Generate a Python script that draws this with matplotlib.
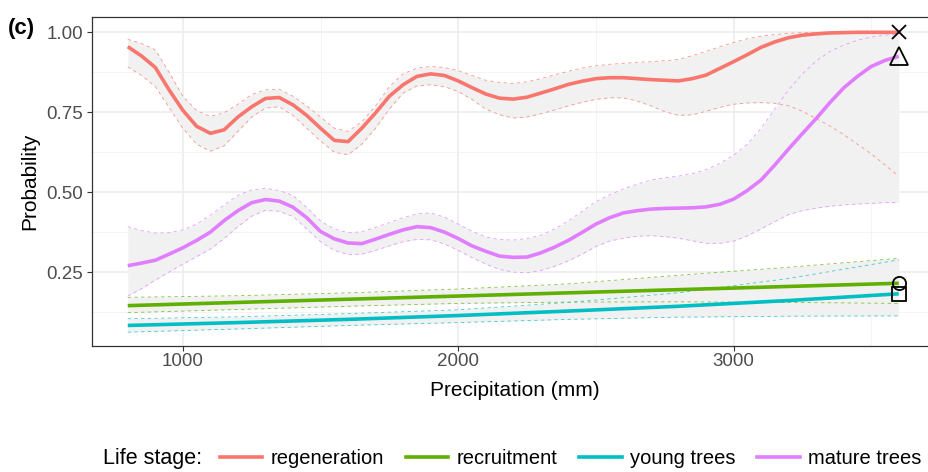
#!/usr/bin/env python

"""Plot fitted probability of each life stage against precipitation,
with confidence bands.
"""

import matplotlib.pyplot as plt
from matplotlib.lines import Line2D

plt.rcParams['font.family'] = ['Liberation Sans', 'DejaVu Sans']

# precipitation grid (mm), 50 mm steps from 800 to 3600
precip = list(range(800, 3650, 50))

regen_fit = [0.955, 0.926, 0.89, 0.82, 0.756, 0.706, 0.684, 0.695, 0.735, 0.767,
             0.793, 0.796, 0.773, 0.74, 0.70, 0.662, 0.658, 0.70, 0.748, 0.80,
             0.836, 0.862, 0.87, 0.865, 0.848, 0.827, 0.807, 0.794, 0.791, 0.797,
             0.81, 0.823, 0.837, 0.847, 0.855, 0.858, 0.858, 0.855, 0.852, 0.85,
             0.848, 0.855, 0.866, 0.887, 0.908, 0.93, 0.953, 0.97, 0.983, 0.991,
             0.995, 0.998, 0.999, 1.0, 1.0, 1.0, 1.0]
regen_lo = [0.892, 0.865, 0.83, 0.765, 0.70, 0.65, 0.628, 0.645, 0.69, 0.735,
            0.763, 0.767, 0.74, 0.70, 0.66, 0.625, 0.617, 0.65, 0.70, 0.76,
            0.81, 0.832, 0.836, 0.83, 0.815, 0.79, 0.76, 0.742, 0.732, 0.735,
            0.745, 0.757, 0.77, 0.781, 0.79, 0.795, 0.795, 0.785, 0.77, 0.752,
            0.74, 0.742, 0.753, 0.765, 0.775, 0.779, 0.78, 0.778, 0.77, 0.753,
            0.73, 0.707, 0.68, 0.65, 0.62, 0.585, 0.55]
regen_hi = [0.978, 0.965, 0.945, 0.875, 0.80, 0.755, 0.737, 0.748, 0.775, 0.805,
            0.82, 0.822, 0.80, 0.77, 0.735, 0.70, 0.69, 0.72, 0.77, 0.83,
            0.87, 0.888, 0.893, 0.89, 0.88, 0.865, 0.85, 0.843, 0.84, 0.845,
            0.855, 0.867, 0.878, 0.888, 0.895, 0.90, 0.903, 0.906, 0.908, 0.911,
            0.915, 0.927, 0.94, 0.955, 0.968, 0.98, 0.988, 0.993, 0.997, 0.999,
            1.0, 1.0, 1.0, 1.0, 1.0, 1.0, 1.0]

mature_fit = [0.27, 0.278, 0.287, 0.306, 0.326, 0.349, 0.375, 0.411, 0.442, 0.467,
              0.477, 0.472, 0.453, 0.42, 0.377, 0.354, 0.341, 0.339, 0.353, 0.368,
              0.382, 0.392, 0.389, 0.375, 0.355, 0.332, 0.315, 0.30, 0.296, 0.297,
              0.31, 0.328, 0.349, 0.374, 0.40, 0.42, 0.435, 0.442, 0.447, 0.449,
              0.45, 0.451, 0.454, 0.462, 0.478, 0.505, 0.538, 0.585, 0.635, 0.683,
              0.73, 0.78, 0.826, 0.862, 0.893, 0.912, 0.925]
mature_lo = [0.175, 0.198, 0.225, 0.25, 0.275, 0.298, 0.322, 0.355, 0.392, 0.425,
             0.443, 0.44, 0.424, 0.385, 0.345, 0.318, 0.305, 0.306, 0.318, 0.332,
             0.345, 0.352, 0.351, 0.338, 0.318, 0.295, 0.275, 0.258, 0.25, 0.248,
             0.255, 0.268, 0.285, 0.306, 0.33, 0.347, 0.356, 0.362, 0.364, 0.361,
             0.356, 0.348, 0.34, 0.34, 0.347, 0.363, 0.385, 0.408, 0.43, 0.442,
             0.45, 0.456, 0.46, 0.463, 0.465, 0.467, 0.468]
mature_hi = [0.392, 0.38, 0.372, 0.373, 0.382, 0.40, 0.428, 0.46, 0.49, 0.507,
             0.512, 0.505, 0.49, 0.452, 0.41, 0.385, 0.373, 0.376, 0.39, 0.405,
             0.42, 0.432, 0.435, 0.422, 0.40, 0.378, 0.36, 0.352, 0.35, 0.355,
             0.365, 0.385, 0.41, 0.44, 0.47, 0.492, 0.51, 0.525, 0.538, 0.545,
             0.55, 0.558, 0.57, 0.59, 0.615, 0.65, 0.70, 0.76, 0.82, 0.87,
             0.91, 0.94, 0.96, 0.975, 0.985, 0.991, 0.995]

# recruitment and young trees are near-linear, 400 mm steps
precip_lin = [800, 1200, 1600, 2000, 2400, 2800, 3200, 3600]
recruit_fit = [0.145, 0.155, 0.165, 0.175, 0.185, 0.195, 0.205, 0.215]
recruit_lo = [0.123, 0.133, 0.143, 0.152, 0.156, 0.157, 0.155, 0.152]
recruit_hi = [0.171, 0.176, 0.185, 0.197, 0.213, 0.24, 0.265, 0.293]
young_fit = [0.083, 0.092, 0.102, 0.114, 0.128, 0.143, 0.161, 0.182]
young_lo = [0.062, 0.072, 0.083, 0.092, 0.102, 0.109, 0.112, 0.113]
young_hi = [0.104, 0.11, 0.12, 0.132, 0.155, 0.185, 0.23, 0.288]

stage_names = ['regeneration', 'recruitment', 'young trees', 'mature trees']
stage_colors = ['#F8766D', '#5FB000', '#00BFC4', '#E07EFF']
end_markers = ['x', 'o', 's', '^']


def draw_stage(ax, x, fit, lo, hi, color):
    """Ribbon with dashed edges plus the fitted line."""
    ax.fill_between(x, lo, hi, color='#F1F1F1', lw=0, zorder=2)
    for edge in (lo, hi):
        ax.plot(x, edge, color=color, lw=0.6, alpha=0.75,
                linestyle=(0, (4, 4)), zorder=3)
    ax.plot(x, fit, color=color, lw=2.6, zorder=4, solid_capstyle='butt')


def plot_stages(output_filename):
    fig = plt.figure(figsize=(9.29, 4.72), dpi=100)
    ax = fig.add_axes([0.099, 0.2676, 0.9096, 0.6958])

    series = [
        (precip, regen_fit, regen_lo, regen_hi),
        (precip_lin, recruit_fit, recruit_lo, recruit_hi),
        (precip_lin, young_fit, young_lo, young_hi),
        (precip, mature_fit, mature_lo, mature_hi),
    ]
    # wide bands first so every line sits on top of the grey fill
    for order in (0, 3, 1, 2):
        x, fit, lo, hi = series[order]
        draw_stage(ax, x, fit, lo, hi, stage_colors[order])

    # open black markers at the end of each curve
    for (x, fit, lo, hi), marker in zip(series, end_markers):
        if marker == 'x':
            ax.plot(x[-1], fit[-1], marker=marker, color='black', ms=10,
                    mew=1.3, zorder=6)
        else:
            ax.plot(x[-1], fit[-1], marker=marker, mfc='none', mec='black',
                    ms=13 if marker == '^' else 9.5, mew=1.3, zorder=6)

    ax.set_xlim(670, 3739)
    ax.set_ylim(0.0197, 1.047)
    ax.set_xticks([1000, 2000, 3000])
    ax.set_xticks([1500, 2500, 3500], minor=True)
    ax.set_yticks([0.25, 0.5, 0.75, 1.0])
    ax.set_yticks([0.125, 0.375, 0.625, 0.875], minor=True)
    ax.set_yticklabels(['0.25', '0.50', '0.75', '1.00'])
    ax.grid(which='major', color='#EBEBEB', lw=1.1, zorder=0)
    ax.grid(which='minor', color='#F3F3F3', lw=0.6, zorder=0)
    ax.set_axisbelow(True)
    ax.tick_params(which='major', length=3.5, width=0.8, color='#333333',
                   labelsize=13.5, labelcolor='#4D4D4D', pad=3)
    ax.tick_params(axis='x', which='major', pad=2)
    ax.tick_params(which='minor', length=0)
    for spine in ax.spines.values():
        spine.set_color('#333333')
        spine.set_linewidth(0.9)

    ax.set_xlabel('Precipitation (mm)', fontsize=15, labelpad=8)
    ax.set_ylabel('Probability', fontsize=15, labelpad=5)
    fig.text(0.009, 0.94, '(c)', fontsize=16, fontweight='bold',
             ha='left', va='center')

    # legend along the bottom
    fig.text(0.111, 0.028, 'Life stage:', fontsize=15.5, ha='left',
             va='center')
    handles = [Line2D([], [], color=c, lw=2.6) for c in stage_colors]
    fig.legend(handles, stage_names, loc='center left',
               bbox_to_anchor=(0.237, 0.028), ncol=4, frameon=False,
               fontsize=14.5, handlelength=2.1, handletextpad=0.4,
               columnspacing=1.1, borderaxespad=0, borderpad=0)

    fig.savefig(output_filename, dpi=100)


def main():
    plot_stages('out.png')


if __name__ == '__main__':
    main()
